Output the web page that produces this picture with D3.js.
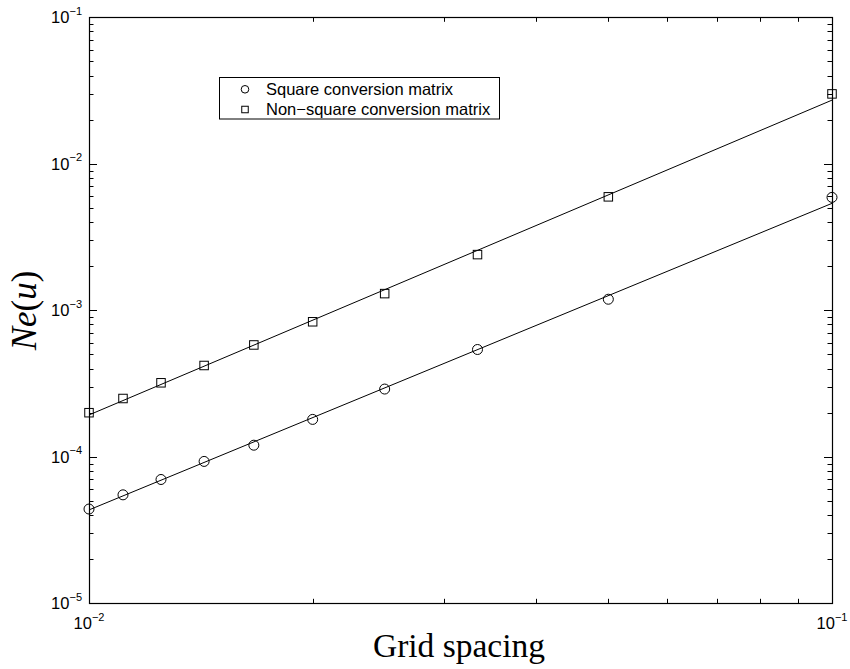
<!DOCTYPE html>
<html>
<head>
<meta charset="utf-8">
<script src="https://cdn.jsdelivr.net/npm/d3@7"></script>
<style>
  html, body { margin: 0; padding: 0; background: #fff; }
  svg { display: block; }
</style>
</head>
<body>
<svg id="chart" width="850" height="669"></svg>
<script>
// ---- Data ----
const gridSpacing = [0.01, 0.011111, 0.0125, 0.014286, 0.016667, 0.02, 0.025, 0.033333, 0.05, 0.1];
const squareErr    = [4.4e-5, 5.5e-5, 7.0e-5, 9.3e-5, 1.2e-4, 1.8e-4, 2.9e-4, 5.4e-4, 1.19e-3, 5.9e-3];
const nonSquareErr = [2.0e-4, 2.5e-4, 3.2e-4, 4.2e-4, 5.8e-4, 8.35e-4, 1.3e-3, 2.4e-3, 5.95e-3, 3.0e-2];
const fitX          = [0.01, 0.1];
const squareFit     = [4.34e-5, 5.37e-3];
const nonSquareFit  = [1.93e-4, 2.72e-2];
const seriesNames   = ["Square conversion matrix", "Non\u2212square conversion matrix"];
const xTickExps = [-2, -1];
const yTickExps = [-5, -4, -3, -2, -1];
const xLabel = "Grid spacing";

// ---- Layout ----
const L = 89, R = 832, T = 17.3, B = 603.3;
const svg = d3.select("#chart");
const x = d3.scaleLog().domain([0.01, 0.1]).range([L, R]);
const y = d3.scaleLog().domain([1e-5, 1e-1]).range([B, T]);

const tickFont = "'Liberation Sans', Arial, Helvetica, sans-serif";
const majorLen = 8, minorLen = 4.5;

// ---- Ticks ----
const gT = svg.append("g").attr("stroke", "#000").attr("stroke-width", 1);
const xt = x.ticks();
xt.forEach(v => {
  const isMajor = Math.abs(Math.log10(v) - Math.round(Math.log10(v))) < 1e-9;
  const len = isMajor ? majorLen : minorLen;
  const px = Math.round(x(v)) + 0.5;
  gT.append("line").attr("x1", px).attr("x2", px).attr("y1", B).attr("y2", B - len);
  gT.append("line").attr("x1", px).attr("x2", px).attr("y1", T).attr("y2", T + len);
});
const yt = y.ticks();
yt.forEach(v => {
  const isMajor = Math.abs(Math.log10(v) - Math.round(Math.log10(v))) < 1e-9;
  const len = isMajor ? majorLen : minorLen;
  const py = Math.round(y(v)) + 0.5;
  gT.append("line").attr("x1", L).attr("x2", L + len).attr("y1", py).attr("y2", py);
  gT.append("line").attr("x1", R).attr("x2", R - len).attr("y1", py).attr("y2", py);
});

// ---- Box ----
svg.append("rect")
  .attr("x", Math.round(L) + 0.5).attr("y", Math.round(T) + 0.5)
  .attr("width", Math.round(R) - Math.round(L)).attr("height", Math.round(B) - Math.round(T))
  .attr("fill", "none").attr("stroke", "#000").attr("stroke-width", 1.2);

// ---- Tick labels ----
yTickExps.forEach(e => {
  const t = svg.append("text")
    .attr("x", 82).attr("y", y(Math.pow(10, e)) + 6)
    .attr("text-anchor", "end")
    .attr("font-family", tickFont).attr("font-size", 16.5).attr("fill", "#000");
  t.append("tspan").text("10");
  t.append("tspan").attr("dy", -8.5).attr("font-size", 11).text("\u2212" + Math.abs(e));
});
xTickExps.forEach(e => {
  const t = svg.append("text")
    .attr("x", x(Math.pow(10, e))).attr("y", 629)
    .attr("text-anchor", "middle")
    .attr("font-family", tickFont).attr("font-size", 16.5).attr("fill", "#000");
  t.append("tspan").text("10");
  t.append("tspan").attr("dy", -8.5).attr("font-size", 11).text("\u2212" + Math.abs(e));
});

// ---- Axis labels ----
svg.append("text")
  .attr("x", 459).attr("y", 657)
  .attr("text-anchor", "middle")
  .attr("font-family", "'Liberation Serif', 'Times New Roman', serif")
  .attr("font-size", 33.5).attr("fill", "#000")
  .text(xLabel);

const yl = svg.append("text")
  .attr("transform", "translate(36,310.5) rotate(-90)")
  .attr("text-anchor", "middle")
  .attr("font-family", "'Liberation Serif', 'Times New Roman', serif")
  .attr("font-size", 35).attr("fill", "#000");
yl.append("tspan").attr("font-style", "italic").text("Ne");
yl.append("tspan").text("(");
yl.append("tspan").attr("font-style", "italic").text("u");
yl.append("tspan").text(")");

// ---- Fit lines ----
const line = d3.line().x(d => x(d[0])).y(d => y(d[1]));
const plot = svg.append("g");
plot.append("path").datum(d3.zip(fitX, squareFit))
  .attr("d", line).attr("fill", "none").attr("stroke", "#000").attr("stroke-width", 1);
plot.append("path").datum(d3.zip(fitX, nonSquareFit))
  .attr("d", line).attr("fill", "none").attr("stroke", "#000").attr("stroke-width", 1);

// ---- Markers ----
plot.selectAll("circle.sq").data(d3.zip(gridSpacing, squareErr)).join("circle")
  .attr("class", "sq")
  .attr("cx", d => x(d[0])).attr("cy", d => y(d[1])).attr("r", 5)
  .attr("fill", "none").attr("stroke", "#000").attr("stroke-width", 1);
const s = 8.5;
plot.selectAll("rect.ns").data(d3.zip(gridSpacing, nonSquareErr)).join("rect")
  .attr("class", "ns")
  .attr("x", d => x(d[0]) - s / 2).attr("y", d => y(d[1]) - s / 2)
  .attr("width", s).attr("height", s)
  .attr("fill", "none").attr("stroke", "#000").attr("stroke-width", 1);

// ---- Legend ----
const lg = svg.append("g");
lg.append("rect").attr("x", 219.5).attr("y", 77.5).attr("width", 280).attr("height", 41.5)
  .attr("fill", "#fff").attr("stroke", "#000").attr("stroke-width", 1);
lg.append("circle").attr("cx", 245).attr("cy", 89.3).attr("r", 3.8)
  .attr("fill", "none").attr("stroke", "#000").attr("stroke-width", 1);
const ls = 6.5;
lg.append("rect").attr("x", 245 - ls / 2).attr("y", 109.5 - ls / 2).attr("width", ls).attr("height", ls)
  .attr("fill", "none").attr("stroke", "#000").attr("stroke-width", 1);
seriesNames.forEach((n, i) => {
  lg.append("text").attr("x", 266).attr("y", 94.6 + i * 20)
    .attr("font-family", tickFont).attr("font-size", 16.5).attr("fill", "#000")
    .text(n);
});
</script>
</body>
</html>
